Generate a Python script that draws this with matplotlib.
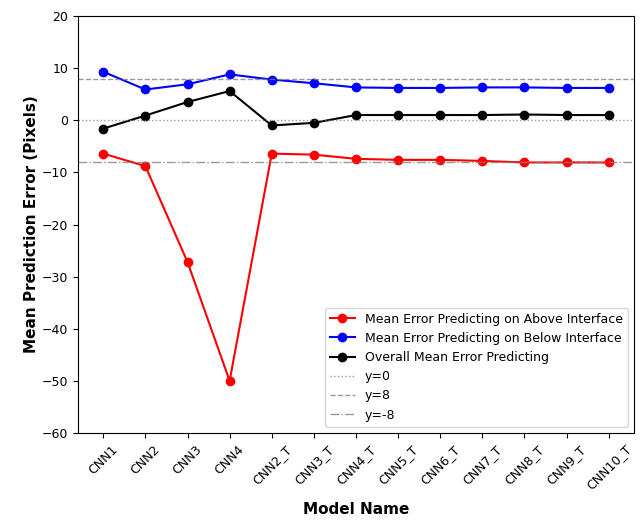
import matplotlib.pyplot as plt
import numpy as np

models = ['CNN1', 'CNN2', 'CNN3', 'CNN4', 'CNN2_T', 'CNN3_T', 'CNN4_T',
          'CNN5_T', 'CNN6_T', 'CNN7_T', 'CNN8_T', 'CNN9_T', 'CNN10_T']
above = [-6.4, -8.8, -27.2, -50.0, -6.4, -6.6, -7.4, -7.6, -7.6, -7.8, -8.1, -8.1, -8.1]
below = [9.3, 5.9, 6.9, 8.8, 7.8, 7.1, 6.3, 6.2, 6.2, 6.3, 6.3, 6.2, 6.2]
overall = [-1.6, 0.9, 3.5, 5.6, -1.0, -0.5, 1.0, 1.0, 1.0, 1.0, 1.1, 1.0, 1.0]

fig = plt.figure(figsize=(6.43, 5.2), dpi=100)
ax = fig.add_axes([78/643, 1-433/520, (634-78)/643, (433-16)/520])

ax.plot(models, above, 'o-', color='red', label='Mean Error Predicting on Above Interface')
ax.plot(models, below, 'o-', color='blue', label='Mean Error Predicting on Below Interface')
ax.plot(models, overall, 'o-', color='black', label='Overall Mean Error Predicting')
ax.axhline(0, color='gray', linestyle=':', linewidth=1, alpha=0.8, label='y=0')
ax.axhline(8, color='gray', linestyle='--', linewidth=1, alpha=0.8, label='y=8')
ax.axhline(-8, color='gray', linestyle='-.', linewidth=1, alpha=0.8, label='y=-8')

ax.set_ylim(-60, 20)
ax.tick_params(labelsize=9)
ax.set_xlabel('Model Name', fontsize=11, fontweight='bold', labelpad=7)
ax.set_ylabel('Mean Prediction Error (Pixels)', fontsize=11, fontweight='bold', labelpad=2)
plt.setp(ax.get_xticklabels(), rotation=45)
ax.legend(loc='lower right', fontsize=9)

fig.savefig('out.png', dpi=100)
